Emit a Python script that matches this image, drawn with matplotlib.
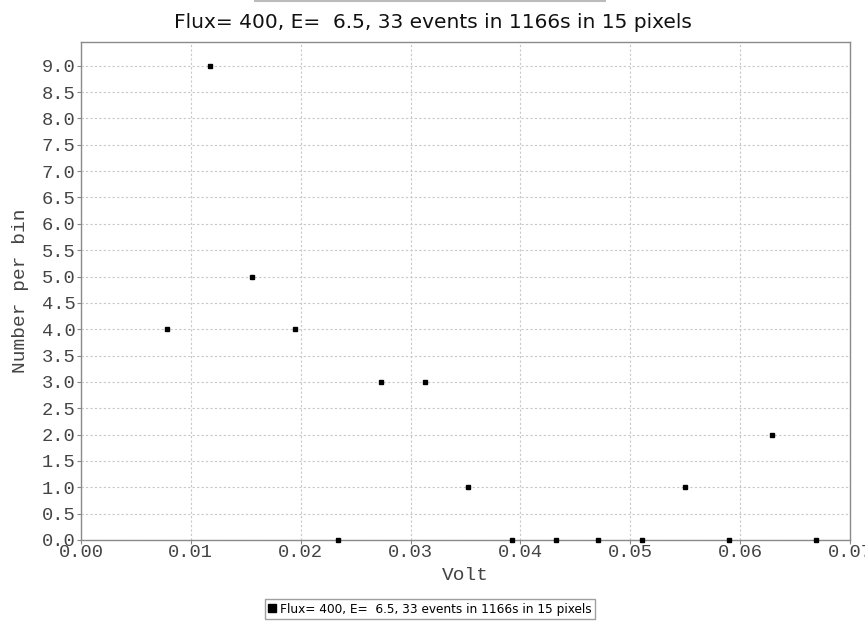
import matplotlib.pyplot as plt
import matplotlib.ticker as mticker
from matplotlib.lines import Line2D

title = "Flux= 400, E=  6.5, 33 events in 1166s in 15 pixels"

volt = [0.0078, 0.0117, 0.0156, 0.0195, 0.0234, 0.0273, 0.0313, 0.0352,
        0.0392, 0.0432, 0.0471, 0.0511, 0.0550, 0.0590, 0.0629, 0.0669]
counts = [4, 9, 5, 4, 0, 3, 3, 1, 0, 0, 0, 0, 1, 0, 2, 0]

W, H = 865, 624
fig = plt.figure(figsize=(W / 100, H / 100), dpi=100)
# plot frame in pixels: left 81, right 850, top 42, bottom 540
ax = fig.add_axes([81 / W, (H - 540) / H, (850 - 81) / W, (540 - 42) / H])

ax.plot(volt, counts, "s", color="black", markersize=3.2, linestyle="none",
        clip_on=False, zorder=3)

ax.set_xlim(0, 0.07)
ax.set_ylim(0, 9.45)
ax.xaxis.set_major_locator(mticker.MultipleLocator(0.01))
ax.yaxis.set_major_locator(mticker.MultipleLocator(0.5))
ax.xaxis.set_major_formatter(mticker.FormatStrFormatter("%.2f"))
ax.yaxis.set_major_formatter(mticker.FormatStrFormatter("%.1f"))

ax.grid(True, color="#c8c8c8", linestyle=(0, (2, 2)), linewidth=0.8)
ax.set_axisbelow(True)
for s in ax.spines.values():
    s.set_color("#8a8a8a")
    s.set_linewidth(1.0)
ax.tick_params(colors="#8a8a8a", length=3, width=0.8, labelcolor="#444444",
               labelsize=13.5, pad=1)
ax.tick_params(axis="x", pad=0)
for lab in ax.get_xticklabels() + ax.get_yticklabels():
    lab.set_family("Liberation Mono")

ax.set_xlabel("Volt", family="Liberation Mono", fontsize=14, color="#444444")
ax.set_ylabel("Number per bin", family="Liberation Mono", fontsize=14, color="#444444")
ax.xaxis.set_label_coords(0.5, -(567 - 540) / (540 - 42), transform=ax.transAxes)
ax.yaxis.set_label_coords(-(81 - 29) / (850 - 81), 0.5, transform=ax.transAxes)

fig.text(0.5, 1 - 23 / H, title, ha="center", va="center", fontsize=14.5,
         family="DejaVu Sans", color="#111111")

# thin grey line at the very top of the reference image
fig.add_artist(Line2D([255 / W, 605 / W], [1 - 1 / H, 1 - 1 / H],
                      color="#bbbbbb", linewidth=1.5))

handle = Line2D([], [], marker="s", color="black", linestyle="none", markersize=6)
fig.legend([handle], [title], loc="center", bbox_to_anchor=(430 / W, 1 - 609 / H),
           fontsize=8.7, frameon=True, fancybox=False, edgecolor="#888888",
           handlelength=0.6, handletextpad=0.3, borderpad=0.3, borderaxespad=0)

fig.savefig("out.png", dpi=100)
